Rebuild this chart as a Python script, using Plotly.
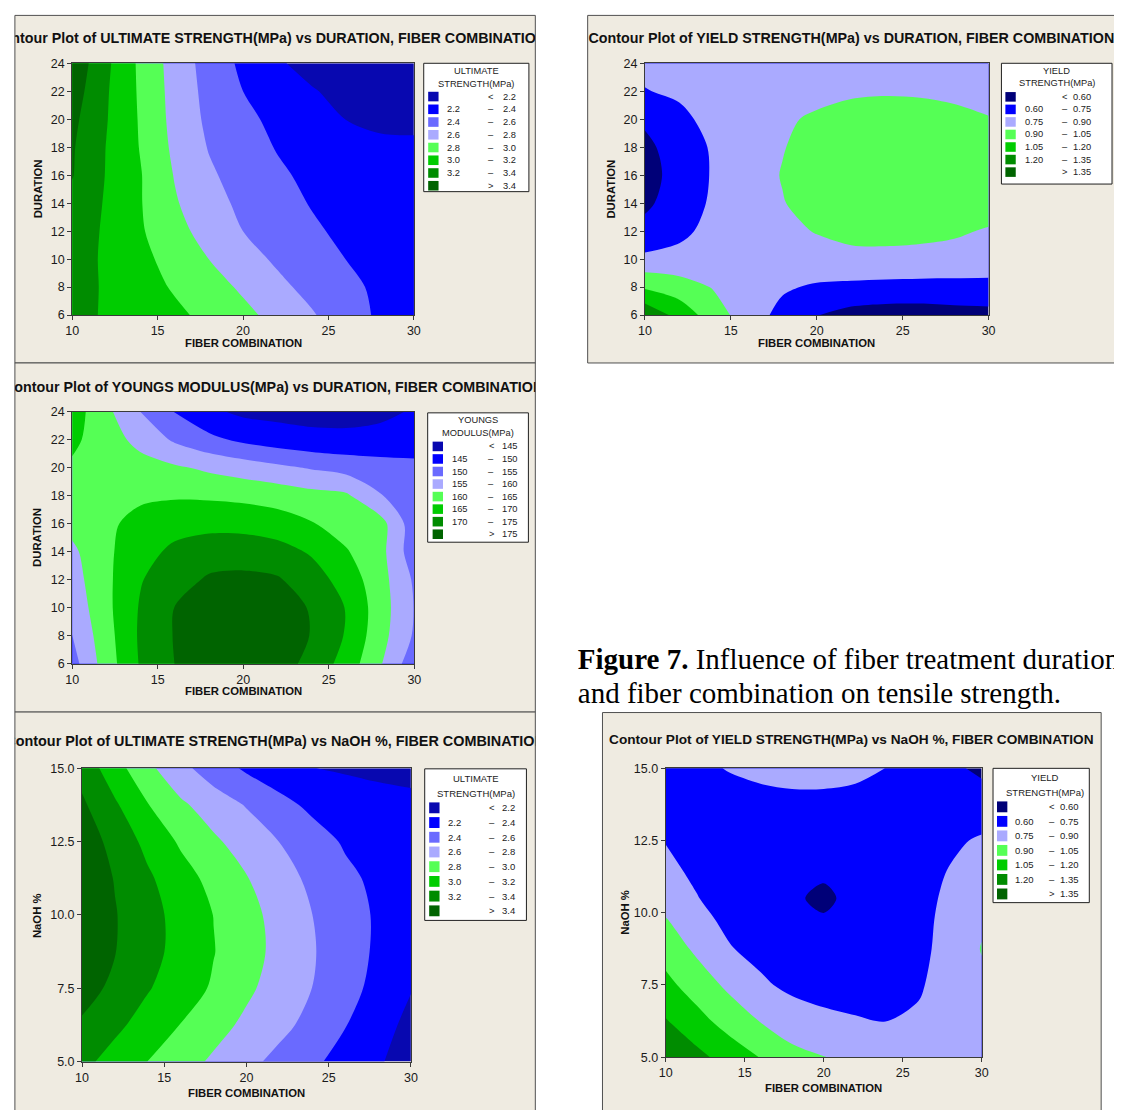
import plotly.graph_objects as go

W, H = 1121, 1117

# ---------------- data ----------------
fiber = [10, 12, 14, 16, 18, 20, 22, 24, 26, 28, 30]
duration = [6, 8, 10, 12, 14, 16, 18, 20, 22, 24]
naoh_ult = [5, 6.25, 7.5, 8.75, 10, 11.25, 12.5, 13.75, 15]
naoh_yld = [5, 6.25, 7.5, 8.75, 9.75, 10.5, 11.25, 12.5, 13.75, 15]

# rows follow the y list (bottom to top), columns follow fiber
ultimate_vs_duration = [
    [3.26, 3.18, 3.11, 3.04, 2.95, 2.85, 2.74, 2.62, 2.49, 2.37, 2.34],
    [3.27, 3.18, 3.08, 2.98, 2.88, 2.77, 2.65, 2.54, 2.44, 2.37, 2.34],
    [3.29, 3.17, 3.05, 2.93, 2.80, 2.68, 2.57, 2.48, 2.40, 2.35, 2.32],
    [3.32, 3.17, 3.02, 2.87, 2.72, 2.60, 2.51, 2.43, 2.36, 2.32, 2.30],
    [3.35, 3.18, 3.01, 2.82, 2.67, 2.56, 2.47, 2.39, 2.34, 2.31, 2.29],
    [3.41, 3.19, 3.01, 2.79, 2.63, 2.52, 2.43, 2.36, 2.32, 2.29, 2.27],
    [3.42, 3.195, 2.99, 2.76, 2.59, 2.48, 2.39, 2.34, 2.28, 2.23, 2.215],
    [3.45, 3.21, 2.98, 2.74, 2.56, 2.45, 2.35, 2.28, 2.199, 2.17, 2.18],
    [3.50, 3.22, 2.97, 2.73, 2.54, 2.40, 2.31, 2.22, 2.13, 2.10, 2.09],
    [3.55, 3.24, 2.96, 2.72, 2.52, 2.36, 2.23, 2.12, 2.07, 2.04, 2.03],
]

yield_vs_duration = [
    [1.32, 1.148, 0.969, 0.824, 0.706, 0.605, 0.55, 0.53, 0.53, 0.545, 0.555],
    [1.03, 0.97, 0.89, 0.83, 0.77, 0.73, 0.715, 0.705, 0.70, 0.70, 0.70],
    [0.785, 0.79, 0.82, 0.84, 0.85, 0.86, 0.87, 0.87, 0.865, 0.86, 0.85],
    [0.64, 0.72, 0.79, 0.845, 0.875, 0.905, 0.93, 0.935, 0.93, 0.915, 0.89],
    [0.575, 0.665, 0.775, 0.85, 0.895, 0.94, 0.96, 0.97, 0.97, 0.96, 0.955],
    [0.55, 0.65, 0.765, 0.85, 0.905, 0.95, 0.97, 0.98, 0.98, 0.97, 0.96],
    [0.57, 0.66, 0.77, 0.85, 0.895, 0.94, 0.96, 0.97, 0.97, 0.96, 0.95],
    [0.62, 0.72, 0.79, 0.84, 0.88, 0.92, 0.94, 0.95, 0.95, 0.93, 0.905],
    [0.745, 0.77, 0.79, 0.81, 0.83, 0.86, 0.885, 0.89, 0.885, 0.875, 0.865],
    [0.78, 0.79, 0.80, 0.81, 0.82, 0.84, 0.85, 0.86, 0.86, 0.85, 0.84],
]

youngs_vs_duration = [
    [153.0, 162.5, 170.5, 175.05, 177.3, 178.0, 177.2, 173.5, 168.0, 160.5, 151.8],
    [154.95, 163.1, 170.8, 175.3, 177.8, 178.3, 177.6, 174.8, 169.6, 161.9, 154.4],
    [156.6, 163.75, 170.5, 175.1, 177.5, 178.0, 177.3, 174.6, 169.8, 162.4, 154.8],
    [157.9, 163.9, 169.7, 173.1, 175.6, 176.0, 175.5, 172.4, 167.9, 162.0, 154.3],
    [159.0, 164.1, 168.0, 171.2, 172.8, 173.0, 172.0, 169.4, 165.4, 161.7, 152.0],
    [161.5, 164.1, 166.5, 168.0, 168.5, 168.3, 167.2, 165.3, 163.0, 162.0, 152.0],
    [163.5, 163.8, 164.2, 164.5, 164.3, 163.8, 163.0, 161.7, 160.8, 155.3, 152.5],
    [164.3, 163.3, 162.0, 160.7, 159.1, 157.6, 156.1, 154.6, 153.2, 152.0, 151.0],
    [166.0, 162.4, 158.4, 154.3, 151.3, 149.0, 147.5, 146.5, 146.3, 146.8, 148.0],
    [167.5, 161.2, 154.95, 149.8, 146.0, 144.0, 143.5, 143.2, 143.2, 143.8, 145.5],
]

ultimate_vs_naoh = [
    [3.252, 3.125, 2.998, 2.883, 2.769, 2.655, 2.544, 2.437, 2.329, 2.221, 2.113],
    [3.37, 3.244, 3.119, 2.995, 2.873, 2.759, 2.655, 2.539, 2.408, 2.278, 2.147],
    [3.486, 3.351, 3.214, 3.097, 2.976, 2.837, 2.715, 2.599, 2.472, 2.34, 2.21],
    [3.544, 3.406, 3.267, 3.134, 3.007, 2.876, 2.745, 2.616, 2.487, 2.37, 2.27],
    [3.552, 3.411, 3.27, 3.132, 2.997, 2.865, 2.733, 2.601, 2.477, 2.377, 2.33],
    [3.549, 3.39, 3.23, 3.08, 2.94, 2.81, 2.681, 2.557, 2.44, 2.36, 2.32],
    [3.52, 3.331, 3.146, 2.973, 2.833, 2.713, 2.598, 2.479, 2.38, 2.33, 2.29],
    [3.433, 3.228, 3.008, 2.834, 2.706, 2.588, 2.459, 2.36, 2.30, 2.25, 2.23],
    [3.33, 3.082, 2.847, 2.657, 2.497, 2.37, 2.286, 2.203, 2.18, 2.17, 2.165],
]

yield_vs_naoh = [
    [1.30, 1.24, 1.14, 1.045, 0.94, 0.905, 0.86, 0.80, 0.81, 0.84, 0.86],
    [1.21, 1.10, 0.99, 0.895, 0.83, 0.79, 0.765, 0.748, 0.775, 0.84, 0.87],
    [1.09, 0.98, 0.87, 0.775, 0.715, 0.685, 0.67, 0.675, 0.73, 0.83, 0.88],
    [0.99, 0.87, 0.76, 0.705, 0.675, 0.655, 0.645, 0.655, 0.70, 0.82, 0.905],
    [0.91, 0.79, 0.72, 0.675, 0.64, 0.612, 0.63, 0.645, 0.69, 0.81, 0.885],
    [0.83, 0.755, 0.685, 0.64, 0.618, 0.575, 0.637, 0.645, 0.685, 0.79, 0.86],
    [0.79, 0.73, 0.67, 0.64, 0.625, 0.611, 0.628, 0.645, 0.685, 0.765, 0.82],
    [0.745, 0.70, 0.67, 0.66, 0.655, 0.65, 0.65, 0.655, 0.67, 0.72, 0.77],
    [0.72, 0.71, 0.71, 0.71, 0.72, 0.72, 0.71, 0.70, 0.68, 0.66, 0.65],
    [0.70, 0.73, 0.755, 0.78, 0.79, 0.79, 0.78, 0.748, 0.70, 0.62, 0.58],
]

# contour levels and legend labels
ult_levels = ["2.2", "2.4", "2.6", "2.8", "3.0", "3.2", "3.4"]
yld_levels = ["0.60", "0.75", "0.90", "1.05", "1.20", "1.35"]
ym_levels = ["145", "150", "155", "160", "165", "170", "175"]

fiber_ticks = [10, 15, 20, 25, 30]
duration_ticks = [6, 8, 10, 12, 14, 16, 18, 20, 22, 24]
naoh_ticks = [5.0, 7.5, 10.0, 12.5, 15.0]

caption_1 = "<b>Figure 7.</b> Influence of fiber treatment duration"
caption_2 = "and fiber combination on tensile strength."

# ---------------- styles ----------------
C8 = ["#0808B0", "#0000FF", "#6A6AFF", "#AAAAFF", "#55FF55", "#00CC00", "#008C00", "#006400"]
C7 = ["#000078", "#0000FF", "#AAAAFF", "#55FF55", "#00CC00", "#008C00", "#006400"]
PANEL_BG = "#EFEBE1"
PANEL_LINE = "#505050"
SANS = "Liberation Sans, Arial, sans-serif"
SERIF = "Liberation Serif, Times New Roman, serif"
AXT_SIZE = 11.3


def PX(rx):
    return min(1.0, max(0.0, rx / W))


def PY(ry):
    return min(1.0, max(0.0, 1 - ry / H))


def xd(a, b):
    return [PX(a), PX(b)]


def yd(top, bottom):
    return [PY(bottom), PY(top)]


panels = [
    dict(box=(8, 8.5, 535, 360.5), open_side=None, plot=(66, 57, 412, 312),
         title="Contour Plot of ULTIMATE STRENGTH(MPa) vs DURATION, FIBER COMBINATION",
         tx=265.5, ty=33, ts=14.3, x=fiber, y=duration, z=ultimate_vs_duration, levels=ult_levels, colors=C8,
         yticks=duration_ticks, yfmt="d", yrange=[6, 24], ylab="DURATION",
         xlab_xy=(239, 340), ylab_xy=(31, 184),
         leg=dict(box=(422, 57, 528.5, 187), head=("ULTIMATE", "STRENGTH(MPa)"), hx=475, hy=(65, 77.5),
                  y0=90.7, dy=12.9, sq=(426.5, 437), sqh=9.7, lo=444, sign=490, hi=517, fs=9.3)),
    dict(box=(588, 8.5, W, 360.5), open_side="right", plot=(646, 57, 994, 312),
         title="Contour Plot of YIELD STRENGTH(MPa) vs DURATION, FIBER COMBINATION",
         tx=855, ty=33, ts=14.3, x=fiber, y=duration, z=yield_vs_duration, levels=yld_levels, colors=C7,
         yticks=duration_ticks, yfmt="d", yrange=[6, 24], ylab="DURATION",
         xlab_xy=(820, 340), ylab_xy=(611.5, 184),
         leg=dict(box=(1007, 57, 1119, 179.3), head=("YIELD", "STRENGTH(MPa)"), hx=1063, hy=(65, 76.7),
                  y0=91, dy=12.7, sq=(1011, 1021.5), sqh=9.7, lo=1029, sign=1071, hi=1100, fs=9.3)),
    dict(box=(8, 360.5, 535, 714), open_side=None, plot=(66, 410, 412.5, 665),
         title="Contour Plot of YOUNGS MODULUS(MPa) vs DURATION, FIBER COMBINATION",
         tx=270, ty=386, ts=14.3, x=fiber, y=duration, z=youngs_vs_duration, levels=ym_levels, colors=C8,
         yticks=duration_ticks, yfmt="d", yrange=[6, 24], ylab="DURATION",
         xlab_xy=(239, 693), ylab_xy=(31, 537),
         leg=dict(box=(426, 411, 528, 542), head=("YOUNGS", "MODULUS(MPa)"), hx=477, hy=(418.7, 431.3),
                  y0=445, dy=12.7, sq=(431, 441.5), sqh=9.7, lo=449, sign=490.5, hi=519, fs=9.3)),
    dict(box=(8, 714, 535, H), open_side="bottom", plot=(76, 771, 409, 1068),
         title="Contour Plot of ULTIMATE STRENGTH(MPa) vs NaOH %, FIBER COMBINATION",
         tx=271.5, ty=745, ts=14.4, x=fiber, y=naoh_ult, z=ultimate_vs_naoh, levels=ult_levels, colors=C8,
         yticks=naoh_ticks, yfmt=".1f", yrange=[5, 15], ylab="NaOH %",
         xlab_xy=(242.5, 1100), ylab_xy=(31, 920),
         leg=dict(box=(423, 771.5, 526, 925), head=("ULTIMATE", "STRENGTH(MPa)"), hx=474.5, hy=(781, 796),
                  y0=811, dy=14.9, sq=(427.5, 438), sqh=11, lo=444.5, sign=491, hi=516.5, fs=9.5)),
    dict(box=(603, 714.5, 1108, H), open_side="bottom", plot=(667, 771, 987, 1063.5),
         title="Contour Plot of YIELD STRENGTH(MPa) vs NaOH %, FIBER COMBINATION",
         tx=855, ty=743, ts=13.65, x=fiber, y=naoh_yld, z=yield_vs_naoh, levels=yld_levels, colors=C7,
         yticks=naoh_ticks, yfmt=".1f", yrange=[5, 15], ylab="NaOH %",
         xlab_xy=(827, 1095), ylab_xy=(625, 917),
         leg=dict(box=(998.5, 771, 1096, 907), head=("YIELD", "STRENGTH(MPa)"), hx=1051.5, hy=(780, 795),
                  y0=810, dy=14.7, sq=(1002.5, 1013), sqh=11, lo=1019, sign=1058.5, hi=1087.5, fs=9.5)),
]

fig = go.Figure()
shapes = []
annotations = []
layout = {}


def line(xa, ya, xb, yb, color=PANEL_LINE):
    shapes.append(dict(type="line", xref="paper", yref="paper", x0=PX(xa), y0=PY(ya), x1=PX(xb), y1=PY(yb),
                       line=dict(color=color, width=1), layer="below"))


def clipped_text(ax_id, box, text, cx, cy, font, position="middle center"):
    """text drawn as a scatter text node, clipped to the given pixel box"""
    bx0, by0, bx1, by1 = box
    bx1, by1 = min(bx1, W), min(by1, H)
    layout["xaxis" + ax_id] = dict(domain=xd(bx0, bx1), range=[bx0, bx1], visible=False,
                                   fixedrange=True, anchor="y" + ax_id)
    layout["yaxis" + ax_id] = dict(domain=yd(by0, by1), range=[by1, by0], visible=False,
                                   fixedrange=True, anchor="x" + ax_id)
    fig.add_trace(go.Scatter(x=[cx], y=[cy], mode="text", text=[text], textposition=position,
                             textfont=font, cliponaxis=True, xaxis="x" + ax_id, yaxis="y" + ax_id,
                             hoverinfo="skip", showlegend=False))


for i, p in enumerate(panels):
    n = i + 1
    sfx = "" if n == 1 else str(n)
    bx0, by0, bx1, by1 = p["box"]
    x0, y0, x1, y1 = p["plot"]

    # panel background and frame
    shapes.append(dict(type="rect", xref="paper", yref="paper",
                       x0=PX(bx0), x1=PX(bx1), y0=PY(by1), y1=PY(by0),
                       fillcolor=PANEL_BG, line=dict(width=0), layer="below"))
    line(bx0, by0, bx1, by0)
    line(bx0, by0, bx0, by1)
    if p["open_side"] != "right":
        line(bx1, by0, bx1, by1)
    if p["open_side"] != "bottom":
        line(bx0, by1, bx1, by1)

    # contour
    lv = [float(v) for v in p["levels"]]
    size = round(lv[1] - lv[0], 6)
    cols = p["colors"]
    cscale = [[k / (len(cols) - 1), c] for k, c in enumerate(cols)]
    fig.add_trace(go.Contour(
        x=p["x"], y=p["y"], z=p["z"], xaxis="x" + sfx, yaxis="y" + sfx,
        autocontour=False,
        contours=dict(start=lv[0], end=lv[-1], size=size, coloring="fill", showlines=False),
        colorscale=cscale, showscale=False, line=dict(width=0, smoothing=0.9),
        hoverinfo="skip"))

    axis_common = dict(showgrid=False, zeroline=False, showline=True, mirror=True,
                       linecolor="#3a3a3a", linewidth=1, ticks="outside", ticklen=4,
                       tickcolor="#3a3a3a", tickfont=dict(family=SANS, size=12.5, color="#1a1a1a"),
                       fixedrange=True)
    layout["xaxis" + sfx] = dict(axis_common, domain=xd(x0, x1), range=[10, 30],
                                 tickvals=fiber_ticks, anchor="y" + sfx)
    layout["yaxis" + sfx] = dict(axis_common, domain=yd(y0, y1), range=p["yrange"],
                                 tickvals=p["yticks"], tickformat=p["yfmt"], anchor="x" + sfx)

    # title, clipped to the panel
    clipped_text(str(n + 5), p["box"], p["title"], p["tx"], p["ty"],
                 dict(family=SANS, size=p["ts"], color="#111111", weight="bold"))

    # axis titles
    annotations.append(dict(text="<b>FIBER COMBINATION</b>", x=PX(p["xlab_xy"][0]), y=PY(p["xlab_xy"][1]),
                            xref="paper", yref="paper", showarrow=False, xanchor="center", yanchor="middle",
                            font=dict(family=SANS, size=AXT_SIZE, color="#111111")))
    annotations.append(dict(text="<b>" + p["ylab"] + "</b>", x=PX(p["ylab_xy"][0]), y=PY(p["ylab_xy"][1]),
                            xref="paper", yref="paper", showarrow=False, xanchor="center", yanchor="middle",
                            textangle=-90, font=dict(family=SANS, size=AXT_SIZE, color="#111111")))

    # legend box
    L = p["leg"]
    lx0, ly0, lx1, ly1 = L["box"]
    shapes.append(dict(type="rect", xref="paper", yref="paper", x0=PX(lx0), x1=PX(lx1),
                       y0=PY(ly1), y1=PY(ly0), fillcolor="white",
                       line=dict(color="#202020", width=1), layer="above"))
    lfont = dict(family=SANS, size=L["fs"], color="#222222")
    for hy, ht in zip(L["hy"], L["head"]):
        annotations.append(dict(text=ht, x=PX(L["hx"]), y=PY(hy), xref="paper", yref="paper",
                                showarrow=False, xanchor="center", yanchor="middle", font=lfont))
    labels = p["levels"]
    rows = [("", "<", labels[0])]
    rows += [(labels[k - 1], "–", labels[k]) for k in range(1, len(labels))]
    rows += [("", ">", labels[-1])]
    for k, (lo, sg, hi) in enumerate(rows):
        ry = L["y0"] + k * L["dy"]
        shapes.append(dict(type="rect", xref="paper", yref="paper",
                           x0=PX(L["sq"][0]), x1=PX(L["sq"][1]),
                           y0=PY(ry + L["sqh"] / 2), y1=PY(ry - L["sqh"] / 2),
                           fillcolor=cols[k], line=dict(width=0), layer="above"))
        if lo:
            annotations.append(dict(text=lo, x=PX(L["lo"]), y=PY(ry), xref="paper", yref="paper",
                                    showarrow=False, xanchor="left", yanchor="middle", font=lfont))
        annotations.append(dict(text=sg, x=PX(L["sign"]), y=PY(ry), xref="paper", yref="paper",
                                showarrow=False, xanchor="center", yanchor="middle", font=lfont))
        annotations.append(dict(text=hi, x=PX(L["hi"]), y=PY(ry), xref="paper", yref="paper",
                                showarrow=False, xanchor="right", yanchor="middle", font=lfont))

# figure caption (clipped at the right edge of the page, as in the source)
cap_font = dict(family=SERIF, size=29, color="#000000")
clipped_text("11", (560, 640, W, 680), caption_1, 578, 663, cap_font, "middle right")
clipped_text("12", (560, 681, W, 713), caption_2, 578, 697, cap_font, "middle right")

fig.update_layout(
    width=W, height=H, margin=dict(l=0, r=0, t=0, b=0),
    paper_bgcolor="white", plot_bgcolor="rgba(0,0,0,0)",
    showlegend=False, shapes=shapes, annotations=annotations, **layout)

# drop the browser's default 8 px body margin so the figure fills the window
fig.write_html("out.html", config=dict(displayModeBar=False),
               post_script="document.body.style.margin='0px';")
